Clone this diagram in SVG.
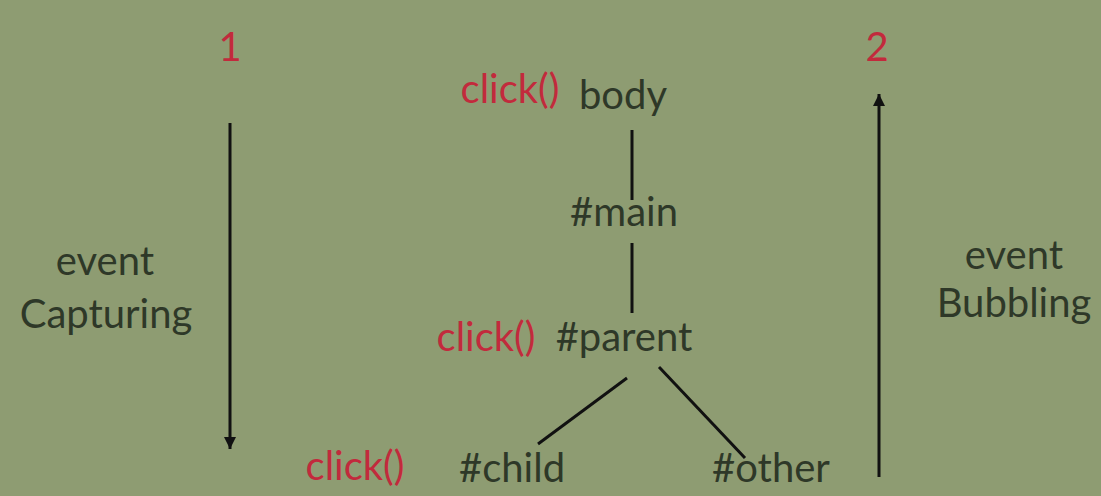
<svg xmlns="http://www.w3.org/2000/svg" width="1101" height="496" viewBox="0 0 1101 496">
<style>
text{font-family:Lato,"Open Sans","Liberation Sans",sans-serif;font-size:40px;text-anchor:middle}
.r{fill:#c22a3c}
.d{fill:#2e3828}
.ln{stroke:#111;stroke-width:3;fill:none}
</style>
<defs>
<marker id="ah" viewBox="0 0 10 10" refX="10" refY="5" markerWidth="4.5" markerHeight="4" orient="auto" markerUnits="strokeWidth"><path d="M0,0L10,5L0,10z" fill="#111"/></marker>
</defs>
<rect width="1101" height="496" fill="#8e9c72"/>
<g id="connectors">
<line class="ln" x1="230" y1="123" x2="230" y2="449" marker-end="url(#ah)"/>
<line class="ln" x1="879" y1="477" x2="879" y2="94" marker-end="url(#ah)"/>
<line class="ln" x1="632" y1="130" x2="632" y2="200"/>
<line class="ln" x1="632" y1="243" x2="632" y2="313"/>
<line class="ln" x1="627" y1="378" x2="538" y2="444"/>
<line class="ln" x1="659" y1="367" x2="745" y2="458"/>
</g>
<g id="label-1"><text class="r" x="230" y="61">1</text></g>
<g id="label-2"><text class="r" x="877" y="61">2</text></g>
<g id="capturing"><text class="d" x="105" y="275">event</text><text class="d" x="106" y="328">Capturing</text></g>
<g id="bubbling"><text class="d" x="1014" y="269">event</text><text class="d" x="1014" y="317">Bubbling</text></g>
<g id="body"><text class="r" x="510" y="103">click()</text><text class="d" x="623" y="109">body</text></g>
<g id="main"><text class="d" x="624" y="226">#main</text></g>
<g id="parent"><text class="r" x="486" y="351">click()</text><text class="d" x="624" y="351">#parent</text></g>
<g id="child"><text class="r" x="355" y="480">click()</text><text class="d" x="512" y="482">#child</text></g>
<g id="other"><text class="d" x="771" y="482">#other</text></g>
</svg>
